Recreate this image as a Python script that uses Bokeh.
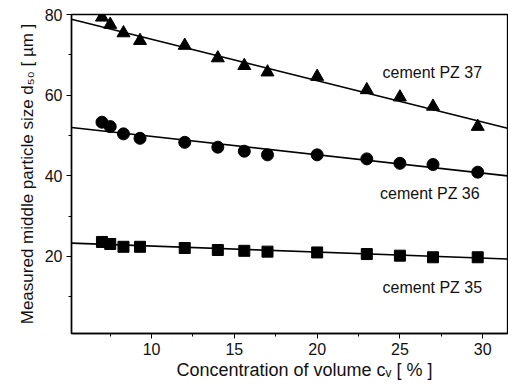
from bokeh.plotting import figure
from bokeh.models import Range1d, Label, ColumnDataSource, FixedTicker, Title
from bokeh.embed import file_html
from bokeh.resources import INLINE

# ---- data ----
conc = [7.0, 7.5, 8.3, 9.3, 12.0, 14.0, 15.6, 17.0, 20.0, 23.0, 25.0, 27.0, 29.7]
pz37 = [79.3, 77.5, 75.4, 73.5, 72.3, 69.2, 67.3, 65.7, 64.6, 61.3, 59.5, 57.2, 52.2]
pz36 = [53.3, 52.2, 50.4, 49.3, 48.3, 47.1, 46.1, 45.2, 45.2, 44.2, 43.1, 42.8, 40.9]
pz35 = [23.6, 23.1, 22.4, 22.4, 22.1, 21.6, 21.4, 21.2, 21.0, 20.6, 20.2, 19.8, 19.8]

# linear fits: intercept, slope
fit_intercepts = [84.1, 54.35, 24.08]
fit_slopes = [-1.026, -0.456, -0.15]
series_labels = ["cement PZ 37", "cement PZ 36", "cement PZ 35"]
label_x = [23.95, 23.8, 23.95]
label_y = [65.7, 35.6, 12.3]

x_ticks = [10, 15, 20, 25, 30]
x_minor = [7.5, 12.5, 17.5, 22.5, 27.5]
y_ticks = [20, 40, 60, 80]
y_minor = [10, 30, 50, 70]

x_title = "Concentration of volume  c\u1d65 [ % ]"
y_title = "Measured middle particle size d\u2085\u2080 [ \u00b5m ]"

X0, X1 = 5.16, 31.5
Y0, Y1 = 0.9, 80.0

p = figure(width=508, height=386, output_backend="svg", toolbar_location=None,
           x_range=Range1d(X0, X1), y_range=Range1d(Y0, Y1),
           min_border_left=71, min_border_right=1, min_border_top=14, min_border_bottom=53)
p.background_fill_color = "white"
p.border_fill_color = "white"
p.xgrid.visible = False
p.ygrid.visible = False
p.outline_line_color = "black"
p.outline_line_width = 1.3

for ax in (p.xaxis, p.yaxis):
    ax.axis_line_width = 1.5
    ax.axis_line_color = "black"
    ax.major_tick_out = 5
    ax.major_tick_in = 0
    ax.minor_tick_out = 3
    ax.minor_tick_in = 0
    ax.major_tick_line_color = "black"
    ax.minor_tick_line_color = "black"
    ax.major_label_text_font = "Liberation Sans"
    ax.major_label_text_font_size = "16px"
    ax.major_label_text_color = "#111111"
    ax.major_label_standoff = 4
    ax.axis_label_text_font = "Liberation Sans"
    ax.axis_label_text_font_size = "17px"
    ax.axis_label_text_font_style = "normal"
    ax.axis_label_text_color = "#111111"

p.xaxis.ticker = FixedTicker(ticks=x_ticks, minor_ticks=x_minor)
p.yaxis.ticker = FixedTicker(ticks=y_ticks, minor_ticks=y_minor)

p.yaxis.axis_label = y_title
p.yaxis.axis_label_standoff = 5

p.xaxis.axis_label = None
p.add_layout(Title(text=x_title, align="left", offset=105, text_font="Liberation Sans",
                   text_font_size="18px", text_font_style="normal",
                   text_color="#111111", standoff=1), "below")

# fit lines
for a, b in zip(fit_intercepts, fit_slopes):
    p.line([X0, X1], [a + b * X0, a + b * X1], line_color="black", line_width=1.6)

src = ColumnDataSource(dict(x=conc, a=pz37, b=pz36, c=pz35))
p.scatter("x", "a", source=src, marker="triangle", size=13, color="black")
p.scatter("x", "b", source=src, marker="circle", size=12, color="black")
p.scatter("x", "c", source=src, marker="square", size=11, color="black")

for t, lx, ly in zip(series_labels, label_x, label_y):
    p.add_layout(Label(x=lx, y=ly, text=t, text_font="Liberation Sans",
                       text_font_size="16px", text_color="#111111",
                       text_baseline="middle", text_align="left"))

open("out.html", "w").write(file_html(p, INLINE))
